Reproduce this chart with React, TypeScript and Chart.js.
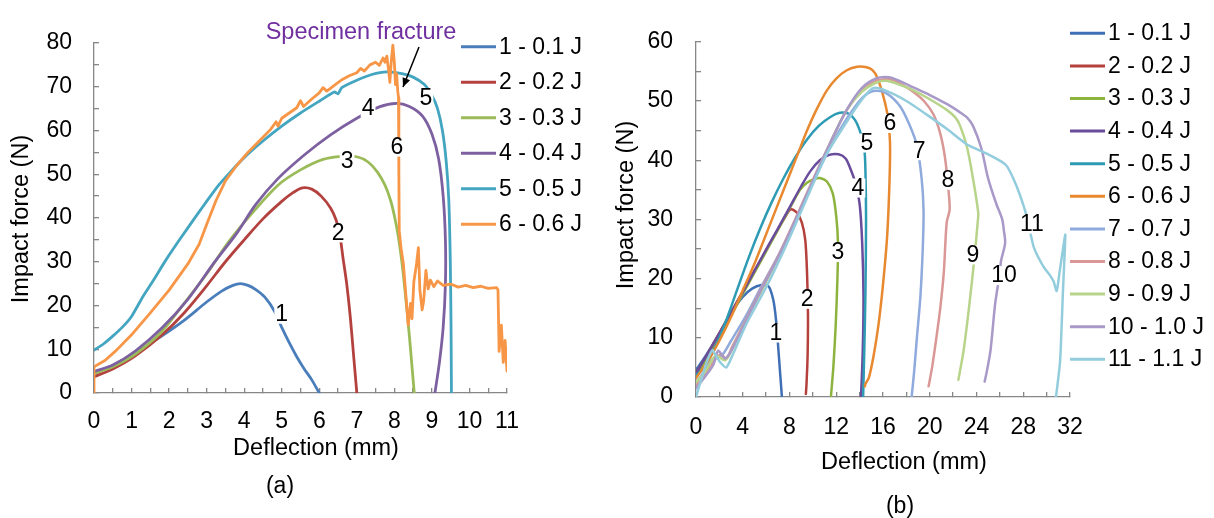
import { useEffect, useRef } from 'react';
import { Chart, registerables } from 'chart.js';

Chart.register(...registerables);

const FONT = '"Liberation Sans", Arial, Helvetica, sans-serif';
const AXIS = '#878787';
type Pt = [number, number];

// ---------------- Panel (a) ----------------
const A_NAMES = ['1 - 0.1 J', '2 - 0.2 J', '3 - 0.3 J', '4 - 0.4 J', '5 - 0.5 J', '6 - 0.6 J'];
const A_COLORS = ['#4A7EBB', '#B3423F', '#9BBB59', '#7D60A0', '#43A5C0', '#F79646'];

const A1: Pt[] = [[0, 4.5], [0.5, 6.3], [1.1, 9.2], [1.8, 13], [2.4, 16.6], [3.0, 20.8], [3.4, 23.3], [3.7, 24.6], [3.9, 25], [4.1, 24.6], [4.3, 23.7], [4.55, 21.9], [4.8, 18.8], [5.0, 15], [5.2, 11.5], [5.4, 8.3], [5.6, 5.5], [5.8, 3], [6.0, 0]];
const A2: Pt[] = [[0, 3.7], [0.5, 5.5], [1.1, 8.5], [1.8, 13.2], [2.4, 18.3], [3.0, 24.5], [3.5, 30], [4.0, 35], [4.5, 39.8], [5.0, 43.8], [5.3, 45.8], [5.55, 46.9], [5.8, 46.6], [6.05, 45], [6.3, 42.3], [6.45, 39.5], [6.55, 36], [6.63, 31], [6.73, 25], [6.83, 17], [6.92, 8], [7.0, 0]];
const A3: Pt[] = [[0, 4.5], [0.5, 6], [1.1, 8.9], [1.8, 14], [2.4, 20.5], [3.0, 27.2], [3.6, 34.7], [4.2, 41], [4.9, 47.5], [5.5, 51], [6.1, 53.4], [6.6, 54.1], [7.0, 54], [7.3, 52.8], [7.55, 50.5], [7.75, 47.5], [7.9, 44], [8.0, 40.5], [8.1, 36], [8.2, 30], [8.3, 22], [8.4, 13], [8.47, 6], [8.53, 0]];
const A4: Pt[] = [[0, 4.9], [0.5, 6.4], [1.1, 9.6], [1.8, 14.8], [2.5, 21.4], [3.2, 29.8], [3.8, 36.5], [4.3, 43], [4.9, 49], [5.6, 54.4], [6.3, 59], [7.0, 62.8], [7.6, 65.4], [8.05, 66.2], [8.4, 65.5], [8.75, 63.3], [9.0, 59.2], [9.18, 53.5], [9.3, 45], [9.36, 35], [9.36, 25], [9.3, 15], [9.2, 7], [9.08, 0]];
const A5: Pt[] = [[0, 9.8], [0.25, 11.2], [0.5, 13], [0.75, 15], [1.0, 17.5], [1.3, 22], [1.6, 26], [1.9, 30.2], [2.3, 35.3], [2.7, 40.2], [3.0, 43.8], [3.3, 47.3], [3.6, 50.2], [4.0, 53.8], [4.5, 57.6], [5.0, 61], [5.5, 64], [6.0, 66.7], [6.4, 68.8], [6.5, 68.4], [6.6, 69.8], [7.0, 71.5], [7.4, 72.8], [7.8, 73.4], [8.2, 73], [8.5, 72.2], [8.8, 70.5], [9.0, 68], [9.15, 65], [9.28, 60], [9.38, 53], [9.45, 44], [9.49, 30], [9.51, 15], [9.52, 0]];
const A6: Pt[] = [[0, 0], [0, 6], [0.3, 7.5], [0.6, 9.8], [1.0, 13.3], [1.5, 18.3], [2.0, 23.5], [2.5, 29.5], [2.8, 34], [3.0, 38.5], [3.25, 44], [3.5, 48.5], [3.8, 52], [4.1, 55], [4.4, 57.6], [4.7, 60.2], [4.85, 62], [4.9, 61], [5.0, 62.8], [5.2, 64], [5.4, 65.2], [5.5, 66.8], [5.58, 65.5], [5.8, 67.2], [6.0, 68.6], [6.1, 69.8], [6.2, 69], [6.4, 70.3], [6.6, 71.6], [6.8, 72.5], [7.0, 73.2], [7.1, 74.2], [7.2, 73.6], [7.35, 75], [7.5, 75.6], [7.6, 74.9], [7.7, 76.6], [7.75, 75.6], [7.8, 77], [7.85, 73.5], [7.88, 71], [7.92, 76], [7.96, 79.5], [8.0, 75.5], [8.03, 70.5], [8.06, 73], [8.09, 69], [8.11, 67.5], [8.12, 50], [8.13, 37], [8.18, 33], [8.24, 29.5], [8.31, 22], [8.37, 15.5], [8.43, 20.5], [8.47, 17], [8.52, 25.5], [8.59, 29.5], [8.64, 33.2], [8.68, 23.5], [8.74, 19], [8.78, 21], [8.84, 28], [8.9, 23.8], [8.96, 25.8], [9.05, 24.3], [9.15, 25.6], [9.3, 24.6], [9.5, 24.9], [9.7, 24.2], [9.9, 24.6], [10.1, 24.1], [10.3, 24.4], [10.5, 23.9], [10.72, 24.1], [10.76, 23.6], [10.79, 9.5], [10.85, 15.5], [10.9, 7], [10.95, 12], [11, 5]];

const A_LABELS: [string, number, number][] = [['1', 5.0, 18.0], ['2', 6.5, 36.6], ['3', 6.74, 53.0], ['4', 7.3, 65.1], ['5', 8.84, 67.4], ['6', 8.07, 56.2]];

// ---------------- Panel (b) ----------------
const B_NAMES = ['1 - 0.1 J', '2 - 0.2 J', '3 - 0.3 J', '4 - 0.4 J', '5 - 0.5 J', '6 - 0.6 J', '7 - 0.7 J', '8 - 0.8 J', '9 - 0.9 J', '10 - 1.0 J', '11 - 1.1 J'];
const B_COLORS = ['#3F6FB5', '#B5413C', '#8DB33F', '#6A4C9C', '#2E9BB4', '#E8892F', '#8FAADC', '#D99795', '#B8D48A', '#A899C8', '#93CDDD'];

const B1: Pt[] = [[0, 4.5], [1, 7.5], [2, 10.8], [3, 14.2], [4, 16.9], [4.8, 18.3], [5.6, 18.9], [6.2, 18.7], [6.6, 16.5], [6.85, 13], [7.05, 8], [7.2, 4], [7.35, 0]];
const B2: Pt[] = [[0, 4], [1, 7.3], [2, 10.8], [3, 14.3], [4, 17.8], [5, 21.3], [6, 24.8], [7, 28.3], [7.6, 30.3], [8.1, 31.7], [8.6, 31.2], [9.05, 29.5], [9.35, 26.5], [9.5, 21], [9.58, 14], [9.55, 7], [9.45, 2], [9.4, 0.5]];
const B3: Pt[] = [[0, 3.5], [1, 6.8], [2, 10.2], [3, 13.8], [4, 17.4], [5, 21], [6, 24.6], [7, 28.2], [8, 31.8], [8.9, 35], [9.5, 36.2], [10.1, 36.8], [10.6, 37], [11.2, 36.4], [11.7, 34.4], [12.0, 30.5], [12.15, 26], [12.1, 20], [11.95, 12], [11.75, 5], [11.55, 0.2]];
const B4: Pt[] = [[0, 4], [1, 7.3], [2, 10.7], [3, 14.2], [4, 17.7], [5, 21.3], [6, 24.9], [7, 28.4], [8, 32], [9, 35.6], [9.8, 38.2], [10.6, 40], [11.4, 40.9], [12.2, 41], [12.8, 40.3], [13.2, 38.6], [13.6, 36.4], [14.0, 32.6], [14.22, 26], [14.33, 17], [14.27, 8], [14.12, 0]];
const B5: Pt[] = [[0, 3.7], [0.7, 5], [1.5, 7.8], [2.5, 12.5], [3.5, 18], [4.5, 23.5], [5.5, 28.5], [6.5, 33], [7.5, 37], [8.5, 40.5], [9.5, 43.5], [10.5, 45.8], [11.5, 47.3], [12.3, 48], [13.0, 47.9], [13.6, 46.8], [14.1, 44.5], [14.4, 42], [14.5, 38], [14.55, 30], [14.5, 18], [14.4, 8], [14.3, 0]];
const B6: Pt[] = [[0, 3.2], [1, 6], [2, 9.5], [3, 13.5], [4, 18], [5, 22.5], [6, 27.5], [7, 32.5], [8, 37.5], [8.7, 41], [9.5, 45], [10.3, 48.5], [11.2, 51.8], [12, 53.8], [12.9, 55.2], [13.8, 55.8], [14.6, 55.7], [15.1, 55.2], [15.5, 54], [16.0, 51], [16.4, 47.5], [16.6, 43], [16.55, 36], [16.35, 27], [16.0, 19], [15.6, 12], [15.2, 7], [14.8, 3.3], [14.5, 2.2], [14.45, 1.8]];
const B7: Pt[] = [[0, 2.5], [0.8, 4.5], [1.5, 6.5], [2.2, 7], [3, 9.5], [4.3, 13.8], [5.5, 18.3], [7.2, 24.5], [8.6, 30.3], [10, 36.3], [11.5, 42.3], [12.9, 47], [14.2, 50.5], [15.2, 51.7], [16.3, 51.3], [17.5, 49], [18.3, 45.8], [18.9, 42.5], [19.3, 37], [19.47, 31.6], [19.4, 25], [19.2, 17], [18.9, 10], [18.65, 4], [18.45, 0]];
const B8: Pt[] = [[0, 2], [0.8, 4], [1.5, 6], [2.1, 7.2], [2.6, 6.5], [3.1, 8.5], [4.3, 13.2], [5.5, 18], [7.2, 24.5], [8.6, 30.5], [10, 36.7], [11.5, 43], [12.9, 48.5], [14.2, 51.8], [15.3, 53.3], [16.5, 53.7], [17.6, 52.8], [18.6, 51.5], [19.5, 50], [20.3, 47.8], [20.9, 44.5], [21.3, 40.5], [21.6, 35], [21.7, 31.6], [21.45, 29.5], [21.2, 21], [20.9, 15], [20.6, 10.5], [20.2, 5], [19.9, 1.8]];
const B9: Pt[] = [[0, 2.5], [0.8, 4.3], [1.7, 7], [2.5, 6.2], [3.2, 8.5], [4.3, 13], [5.5, 17.5], [7.2, 24.2], [8.6, 30.2], [10, 36.4], [11.5, 43], [12.9, 48.5], [14.2, 51.6], [15.3, 53], [16.2, 53.4], [17.5, 52.7], [18.6, 51.8], [20, 50.3], [21.45, 48.5], [22.2, 47.2], [22.6, 45.8], [23.2, 42.1], [23.7, 36.9], [24.15, 31.1], [24.1, 29.5], [23.85, 24], [23.4, 15.8], [22.9, 7.9], [22.45, 2.9]];
const B10: Pt[] = [[0, 1.5], [0.8, 3.5], [1.5, 5.5], [1.9, 7.8], [2.5, 6.5], [3.2, 8.5], [4.3, 13], [5.5, 17.8], [7.2, 24.3], [8.6, 30.3], [10, 36.5], [11.5, 43], [12.9, 48.5], [14.2, 52.2], [15.4, 53.8], [16.5, 54], [17.5, 53.3], [18.6, 52.3], [20, 51], [21.45, 49.5], [22.5, 48.2], [23.2, 47.2], [23.7, 45.8], [24.4, 42.1], [25, 36.9], [25.7, 32.6], [26.2, 30], [26.35, 28], [26.45, 26], [26.1, 23], [26.0, 21], [25.6, 15.8], [25.2, 7.9], [24.9, 4.5], [24.7, 2.6]];
const B11: Pt[] = [[0, 0], [0.3, 2], [0.9, 5.8], [1.4, 7.9], [1.7, 7], [2.1, 5.8], [2.6, 5], [3.2, 7.4], [4.3, 12.3], [6.05, 18.7], [7.76, 25.8], [9.47, 33.5], [11.18, 41], [12.9, 46.5], [14.3, 50.5], [15.2, 52.2], [16.3, 51.7], [18, 50], [19.74, 47.7], [21.45, 45.3], [23.16, 42.7], [24.87, 41.1], [26.1, 39.8], [26.6, 39], [27.15, 36.9], [27.7, 34.2], [28.3, 30.5], [28.9, 25.3], [29.7, 22.1], [30.3, 20.5], [30.6, 19.5], [30.86, 17.9], [31.1, 21], [31.4, 25], [31.6, 27.4], [31.4, 18], [31.15, 6], [30.8, 0]];

const B_LABELS: [string, number, number][] = [['1', 6.84, 10.8], ['2', 9.5, 16.5], ['3', 12.15, 24.4], ['4', 13.86, 35.3], ['5', 14.63, 42.9], ['6', 16.6, 46.2], ['7', 19.1, 41.6], ['8', 21.56, 36.6], ['9', 23.7, 24], ['10', 26.35, 20.5], ['11', 28.74, 29.2]];

interface PanelSpec {
  left: number; width: number; height: number;
  plot: { l: number; r: number; t: number; b: number };
  xMax: number; xStep: number; xEvery: number; xPad: number;
  yMax: number; yStep: number; yEvery: number; yPad: number;
  series: Pt[][]; colors: string[]; names: string[]; tension: number[]; lineWidth: number;
  labels: [string, number, number][];
  legend: { x1: number; x2: number; tx: number; y0: number; dy: number };
  xTitle: [number, number]; yTitle: [number, number]; caption: [string, number, number];
  fracture?: boolean;
}

const PANEL_A: PanelSpec = {
  left: 0, width: 607, height: 518,
  plot: { l: 94, r: 507, t: 43, b: 393 },
  xMax: 11, xStep: 0.5, xEvery: 1, xPad: 20,
  yMax: 80, yStep: 5, yEvery: 10, yPad: 27,
  series: [A1, A2, A3, A4, A5, A6], colors: A_COLORS, names: A_NAMES,
  tension: [0.3, 0.3, 0.3, 0.3, 0.2, 0], lineWidth: 2.8,
  labels: A_LABELS,
  legend: { x1: 461, x2: 496, tx: 499, y0: 46.7, dy: 35.5 },
  xTitle: [316, 449], yTitle: [22, 219], caption: ['(a)', 280, 487],
  fracture: true,
};

const PANEL_B: PanelSpec = {
  left: 607, width: 607, height: 518,
  plot: { l: 89, r: 463, t: 18, b: 397 },
  xMax: 32, xStep: 2, xEvery: 4, xPad: 21.5,
  yMax: 60, yStep: 5, yEvery: 10, yPad: 28,
  series: [B1, B2, B3, B4, B5, B6, B7, B8, B9, B10, B11], colors: B_COLORS, names: B_NAMES,
  tension: [0.3, 0.3, 0.3, 0.3, 0.3, 0.3, 0.3, 0.3, 0.3, 0.3, 0.2], lineWidth: 2.5,
  labels: B_LABELS,
  legend: { x1: 1070, x2: 1105, tx: 1108, y0: 33.3, dy: 32.6 },
  xTitle: [904, 463], yTitle: [627, 205], caption: ['(b)', 900, 507],
};

const isMult = (v: number, k: number) => Math.abs(v / k - Math.round(v / k)) < 1e-6;

function overlay(s: PanelSpec) {
  return {
    id: 'overlay',
    afterDatasetsDraw(chart: any) {
      const ctx = chart.ctx as CanvasRenderingContext2D;
      const xs = chart.scales.x;
      const ys = chart.scales.y;
      ctx.save();
      ctx.font = `23px ${FONT}`;
      ctx.textAlign = 'center';
      ctx.textBaseline = 'middle';
      for (const [t, x, y] of s.labels) {
        const px = xs.getPixelForValue(x);
        const py = ys.getPixelForValue(y);
        const w = ctx.measureText(t).width;
        ctx.fillStyle = '#fff';
        ctx.fillRect(px - w / 2 - 1, py - 9.5, w + 2, 19);
        ctx.fillStyle = '#000';
        ctx.fillText(t, px, py + 0.5);
      }
      ctx.restore();
    },
    afterDraw(chart: any) {
      const ctx = chart.ctx as CanvasRenderingContext2D;
      const o = s.left;
      ctx.save();
      // legend
      ctx.font = `23px ${FONT}`;
      ctx.textAlign = 'left';
      ctx.textBaseline = 'middle';
      s.names.forEach((n, i) => {
        const y = s.legend.y0 + i * s.legend.dy;
        ctx.strokeStyle = s.colors[i];
        ctx.lineWidth = 3;
        ctx.beginPath();
        ctx.moveTo(s.legend.x1 - o, y);
        ctx.lineTo(s.legend.x2 - o, y);
        ctx.stroke();
        ctx.fillStyle = '#000';
        ctx.fillText(n, s.legend.tx - o, y + 0.5);
      });
      // axis titles
      ctx.font = `23.5px ${FONT}`;
      ctx.textAlign = 'center';
      ctx.fillStyle = '#000';
      ctx.fillText('Deflection (mm)', s.xTitle[0] - o, s.xTitle[1]);
      ctx.save();
      ctx.translate(s.yTitle[0] - o, s.yTitle[1]);
      ctx.rotate(-Math.PI / 2);
      ctx.fillText('Impact force (N)', 0, 0);
      ctx.restore();
      ctx.font = `23px ${FONT}`;
      ctx.fillText(s.caption[0], s.caption[1] - o, s.caption[2]);
      if (s.fracture) {
        ctx.font = `23.5px ${FONT}`;
        ctx.fillStyle = '#7030A0';
        ctx.fillText('Specimen fracture', 361 - o, 33);
        ctx.strokeStyle = '#000';
        ctx.fillStyle = '#000';
        ctx.lineWidth = 1.5;
        const x1 = 419 - o, y1 = 47, x2 = 403 - o, y2 = 87;
        ctx.beginPath();
        ctx.moveTo(x1, y1);
        ctx.lineTo(x2, y2);
        ctx.stroke();
        const ang = Math.atan2(y2 - y1, x2 - x1);
        const L = 9, W = 4;
        ctx.beginPath();
        ctx.moveTo(x2, y2);
        ctx.lineTo(x2 - L * Math.cos(ang) + W * Math.sin(ang), y2 - L * Math.sin(ang) - W * Math.cos(ang));
        ctx.lineTo(x2 - L * Math.cos(ang) - W * Math.sin(ang), y2 - L * Math.sin(ang) + W * Math.cos(ang));
        ctx.closePath();
        ctx.fill();
      }
      ctx.restore();
    },
  };
}

function makeChart(canvas: HTMLCanvasElement, s: PanelSpec) {
  const n = s.series.length;
  const datasets = s.series.map((pts, i) => ({
    label: s.names[i],
    data: pts.map(([x, y]) => ({ x, y })),
    borderColor: s.colors[i],
    backgroundColor: s.colors[i],
    borderWidth: s.lineWidth,
    pointRadius: 0,
    pointHoverRadius: 0,
    tension: s.tension[i],
    fill: false,
    order: n - i,
    borderJoinStyle: 'round' as const,
    borderCapStyle: 'round' as const,
  }));
  const tickFont = { family: FONT, size: 23 };
  return new Chart(canvas, {
    type: 'line',
    data: { datasets },
    options: {
      animation: false,
      responsive: false,
      maintainAspectRatio: false,
      events: [],
      layout: { padding: { left: 0, top: s.plot.t, right: s.width - s.plot.r, bottom: 0 } },
      plugins: { legend: { display: false }, tooltip: { enabled: false }, title: { display: false } },
      scales: {
        x: {
          type: 'linear',
          min: 0,
          max: s.xMax,
          afterFit: (sc: any) => { sc.height = s.height - s.plot.b; },
          ticks: {
            stepSize: s.xStep,
            autoSkip: false,
            maxRotation: 0,
            minRotation: 0,
            padding: s.xPad,
            color: '#000',
            font: tickFont,
            callback: (v: any) => (isMult(Number(v), s.xEvery) ? String(Math.round(Number(v))) : ''),
          },
          grid: { drawOnChartArea: false, drawTicks: true, tickLength: -5, color: AXIS, lineWidth: 1.3 },
          border: { color: AXIS, width: 1.3 },
        },
        y: {
          type: 'linear',
          min: 0,
          max: s.yMax,
          afterFit: (sc: any) => { sc.width = s.plot.l; },
          ticks: {
            stepSize: s.yStep,
            autoSkip: false,
            padding: s.yPad,
            color: '#000',
            font: tickFont,
            callback: (v: any) => (isMult(Number(v), s.yEvery) ? String(Math.round(Number(v))) : ''),
          },
          grid: { drawOnChartArea: false, drawTicks: true, tickLength: -5, color: AXIS, lineWidth: 1.3 },
          border: { color: AXIS, width: 1.3 },
        },
      },
    } as any,
    plugins: [overlay(s)],
  });
}

export default function App() {
  const refA = useRef<HTMLCanvasElement>(null);
  const refB = useRef<HTMLCanvasElement>(null);
  useEffect(() => {
    const a = makeChart(refA.current as HTMLCanvasElement, PANEL_A);
    const b = makeChart(refB.current as HTMLCanvasElement, PANEL_B);
    return () => {
      a.destroy();
      b.destroy();
    };
  }, []);
  return (
    <div style={{ position: 'fixed', left: 0, top: 0, width: 1214, height: 518, background: '#fff', overflow: 'hidden' }}>
      <canvas ref={refA} width={607} height={518} style={{ position: 'absolute', left: 0, top: 0, width: 607, height: 518 }} />
      <canvas ref={refB} width={607} height={518} style={{ position: 'absolute', left: 607, top: 0, width: 607, height: 518 }} />
    </div>
  );
}
